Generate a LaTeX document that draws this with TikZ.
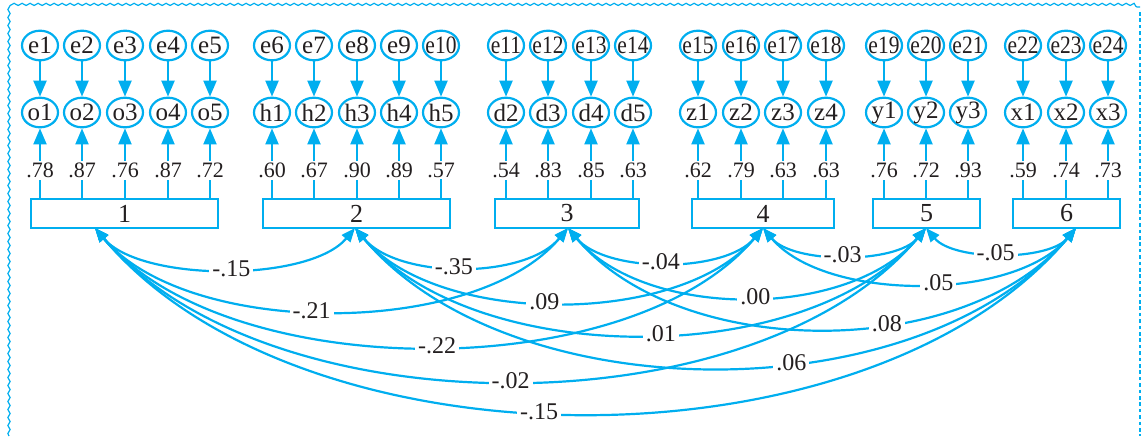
\documentclass[tikz,border=0pt]{standalone}
\usepackage{fontspec}
\setmainfont{Liberation Serif}
\usetikzlibrary{arrows.meta,shapes.geometric,decorations.pathmorphing}
\definecolor{amos}{RGB}{0,174,239}
\definecolor{ink}{RGB}{35,31,32}
\newcommand{\elltext}[1]{\scalebox{0.86}[1]{#1}}
\begin{document}
\begin{tikzpicture}[x=0.5pt,y=0.5pt,
  ell/.style={draw=amos, line width=1.1pt, ellipse, minimum width=18pt, minimum height=14.8pt, inner sep=0pt,
    label={[font=\fontsize{12.5}{13}\selectfont, text=ink, inner sep=0pt]center:#1}},
  fac/.style={draw=amos, line width=1.1pt, rectangle, minimum height=14.5pt, inner sep=0pt,
    font=\fontsize{13}{14}\selectfont, text=ink},
  arr/.style={draw=amos, line width=1.1pt, -{Triangle[length=8pt,width=6.5pt]}},
  cov/.style={draw=amos, line width=1.1pt, {Triangle[length=7pt,width=5.5pt]}-{Triangle[length=7pt,width=5.5pt]}},
  lab/.style={fill=white, inner sep=1pt, font=\fontsize{11}{12}\selectfont, text=ink},
  cl/.style={fill=white, inner sep=1.5pt, font=\fontsize{12}{13}\selectfont, text=ink}
]
\useasboundingbox (0,0) rectangle (1143,-436);
% frame
\draw[amos, line width=0.6pt, decorate, decoration={snake, amplitude=0.55pt, segment length=4pt}]
  (9,-436) -- (9,-7) -- (1140,-7);
\draw[amos, line width=0.7pt, dash pattern=on 1.8pt off 1.4pt] (1140,-12) -- (1140,-436);
% factor boxes
\node[fac, minimum width=93.5pt] (b1) at (124.5,-213.5) {1};
\node[fac, minimum width=93.5pt] (b2) at (356.5,-213.5) {2};
\node[fac, minimum width=72pt] (b3) at (567,-213.5) {3};
\node[fac, minimum width=71pt] (b4) at (763,-213.5) {4};
\node[fac, minimum width=53.5pt] (b5) at (926.5,-213.5) {5};
\node[fac, minimum width=53.5pt] (b6) at (1066.5,-213.5) {6};
% indicators
\foreach \x/\n/\l/\i/\b in {
  40/o1/.78/1/1, 82/o2/.87/2/1, 125/o3/.76/3/1, 168/o4/.87/4/1, 210/o5/.72/5/1,
  272/h1/.60/6/2, 314/h2/.67/7/2, 357/h3/.90/8/2, 399/h4/.89/9/2, 441/h5/.57/10/2,
  506/d2/.54/11/3, 548/d3/.83/12/3, 591/d4/.85/13/3, 633/d5/.63/14/3,
  698/z1/.62/15/4, 741/z2/.79/16/4, 783/z3/.63/17/4, 826/z4/.63/18/4,
  884/y1/.76/19/5, 926/y2/.72/20/5, 968/y3/.93/21/5,
  1023/x1/.59/22/6, 1066/x2/.74/23/6, 1108/x3/.73/24/6}{
  \ifnum\i>9
    \node[ell={\elltext{e\i}}] (e\i) at (\x,-45.5) {};
  \else
    \node[ell={e\i}] (e\i) at (\x,-45.5) {};
  \fi
  \node[ell=\n] (\n) at (\x,-112.5) {};
  \draw[arr] (e\i) -- (\n);
  \draw[arr] (b\b.north -| \n) -- node[lab, pos=0.4]{\l} (\n);
}
% covariance end points
\coordinate (k1) at (95,-228);
\coordinate (k2) at (355,-228);
\coordinate (k3) at (568,-228);
\coordinate (k4) at (763,-228);
\coordinate (k5) at (926,-228);
\coordinate (k6) at (1076,-228);
% covariances
\draw[cov] (k1) to[out=-50,in=-130,looseness=0.70] node[cl,pos=0.52]{-.15} (k2);
\draw[cov] (k1) to[out=-50,in=-130,looseness=0.78] node[cl,pos=0.465]{-.21} (k3);
\draw[cov] (k1) to[out=-50,in=-130,looseness=0.79] node[cl,pos=0.51]{-.22} (k4);
\draw[cov] (k1) to[out=-50,in=-130,looseness=0.82] node[cl,pos=0.50]{-.02} (k5);
\draw[cov] (k1) to[out=-50,in=-130,looseness=0.84] node[cl,pos=0.46]{-.15} (k6);
\draw[cov] (k2) to[out=-50,in=-130,looseness=0.81] node[cl,pos=0.47]{-.35} (k3);
\draw[cov] (k2) to[out=-50,in=-130,looseness=0.81] node[cl,pos=0.47]{.09} (k4);
\draw[cov] (k2) to[out=-50,in=-130,looseness=0.83] node[cl,pos=0.53]{.01} (k5);
\draw[cov] (k2) to[out=-50,in=-130,looseness=0.86] node[cl,pos=0.59]{.06} (k6);
\draw[cov] (k3) to[out=-50,in=-130,looseness=0.78] node[cl,pos=0.48]{-.04} (k4);
\draw[cov] (k3) to[out=-50,in=-130,looseness=0.86] node[cl,pos=0.52]{.00} (k5);
\draw[cov] (k3) to[out=-50,in=-130,looseness=0.88] node[cl,pos=0.61]{.08} (k6);
\draw[cov] (k4) to[out=-50,in=-130,looseness=0.74] node[cl,pos=0.49]{-.03} (k5);
\draw[cov] (k4) to[out=-50,in=-130,looseness=0.79] node[cl,pos=0.55]{.05} (k6);
\draw[cov] (k5) to[out=-50,in=-130,looseness=0.74] node[cl,pos=0.47]{-.05} (k6);
\end{tikzpicture}
\end{document}
